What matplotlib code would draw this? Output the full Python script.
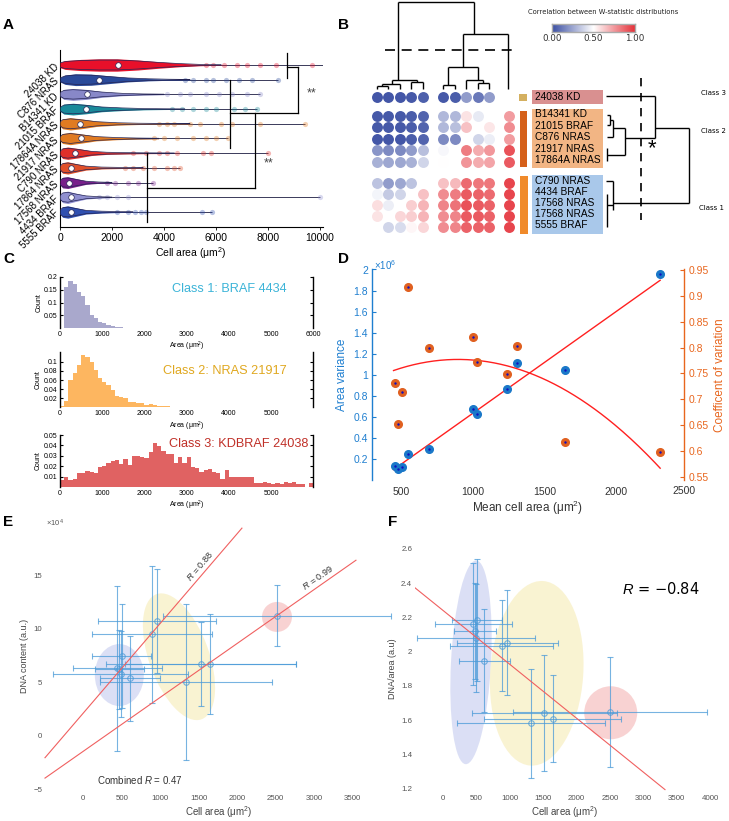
import numpy as np
import matplotlib
matplotlib.use('Agg')
import matplotlib.pyplot as plt
from matplotlib.patches import Rectangle, Ellipse
from matplotlib.colors import LinearSegmentedColormap
from matplotlib.transforms import ScaledTranslation

plt.rcParams['font.family'] = ['Liberation Sans', 'DejaVu Sans']
plt.rcParams['mathtext.fontset'] = 'custom'
plt.rcParams['mathtext.rm'] = 'Liberation Sans'
plt.rcParams['mathtext.it'] = 'Liberation Sans:italic'

nan = np.nan
# ---------------- DATA ----------------
# Panel A
A_labels = ["24038 KD", "C876 NRAS", "B14341 KD", "21015 BRAF", "17864A NRAS", "21917 NRAS",
            "C790 NRAS", "17864 NRAS", "17568 NRAS", "4434 BRAF", "5555 BRAF"]
A_colors = ['#e8102a', '#2a4a9a', '#8888c8', '#1a8a9a', '#e07b22', '#e07b22',
            '#e0302a', '#e0502a', '#78208a', '#9090d0', '#3050b0']
A_median = [2240, 1500, 1030, 1000, 770, 790, 580, 410, 360, 410, 410]
A_max = [10100, 8400, 7690, 7560, 9420, 6470, 8000, 4600, 3590, 10000, 5830]
A_prof_x = [[0, 200, 800, 1500, 2200, 3000, 3800, 4600, 5400, 6200],
            [0, 200, 600, 1200, 1800, 2600, 3400, 4200, 5000],
            [0, 150, 500, 1000, 1600, 2400, 3200, 4000],
            [0, 150, 500, 1000, 1600, 2400, 3200, 4000, 4800],
            [0, 100, 400, 800, 1400, 2200, 3000, 4000, 5000],
            [0, 100, 400, 800, 1400, 2200, 3000, 3800],
            [0, 100, 300, 700, 1200, 1800, 2600, 3400, 4400],
            [0, 100, 300, 600, 1000, 1600, 2400, 3200],
            [0, 100, 300, 600, 1000, 1500, 2000],
            [0, 100, 300, 600, 1000, 1500, 2000],
            [0, 100, 300, 600, 1000, 1600, 2200, 2800]]
A_prof_w = [[0.18, 0.3, 0.38, 0.42, 0.42, 0.34, 0.22, 0.12, 0.05, 0.02],
            [0.15, 0.32, 0.40, 0.38, 0.28, 0.15, 0.08, 0.04, 0.02],
            [0.15, 0.34, 0.40, 0.34, 0.2, 0.09, 0.04, 0.02],
            [0.15, 0.34, 0.40, 0.32, 0.18, 0.1, 0.05, 0.03, 0.02],
            [0.15, 0.34, 0.42, 0.34, 0.18, 0.09, 0.05, 0.03, 0.02],
            [0.15, 0.34, 0.42, 0.32, 0.16, 0.08, 0.04, 0.02],
            [0.15, 0.36, 0.42, 0.32, 0.16, 0.08, 0.05, 0.03, 0.02],
            [0.15, 0.36, 0.42, 0.3, 0.15, 0.07, 0.04, 0.02],
            [0.15, 0.36, 0.40, 0.28, 0.12, 0.05, 0.02],
            [0.15, 0.36, 0.42, 0.28, 0.12, 0.05, 0.02],
            [0.15, 0.36, 0.42, 0.3, 0.14, 0.07, 0.04, 0.02]]
A_outliers = [[5600, 5900, 6300, 6800, 7200, 7700, 8300, 9680],
              [4800, 5100, 5600, 5900, 6400, 6900, 7400, 8400],
              [4100, 4600, 5000, 5600, 6100, 6600, 7200, 7690],
              [4300, 4700, 5100, 5600, 6000, 6700, 7100, 7560],
              [3800, 4100, 4400, 5000, 5400, 6200, 6600, 7700, 9420],
              [3600, 4000, 4500, 5100, 5600, 6000, 6470],
              [2800, 3300, 3800, 4100, 4500, 5500, 5800, 8000],
              [2500, 2800, 3200, 3600, 4100, 4400, 4600],
              [1800, 2100, 2600, 3000, 3590],
              [1500, 1800, 2200, 2600, 10000],
              [2200, 2600, 2900, 3100, 3300, 5450, 5830]]

# Panel B
B_vals = np.array([
    [0.02, 0.02, 0.02, 0.03, 0.05, 0.03, 0.04, 0.22, 0.12, 0.22, nan],
    [0.03, 0.03, 0.03, 0.04, 0.06, 0.30, 0.30, 0.57, 0.44, nan, 0.74],
    [0.03, 0.03, 0.03, 0.04, 0.06, 0.30, 0.32, 0.65, nan, 0.56, 0.78],
    [0.02, 0.02, 0.02, 0.04, 0.06, 0.17, 0.17, nan, 0.38, 0.45, 0.74],
    [0.20, 0.17, 0.17, 0.22, 0.32, 0.48, nan, 0.82, 0.70, 0.75, 0.92],
    [0.28, 0.25, 0.25, 0.28, 0.38, 0.50, nan, 0.76, 0.70, 0.72, 0.90],
    [0.33, 0.22, 0.25, 0.33, nan, 0.65, 0.67, 0.86, 0.83, 0.83, 0.95],
    [0.47, 0.35, 0.38, nan, 0.65, 0.78, 0.82, 0.90, 0.88, 0.86, 0.95],
    [0.58, 0.45, nan, 0.62, 0.68, 0.80, 0.84, 0.92, 0.90, 0.88, 0.95],
    [0.57, nan, 0.60, 0.62, 0.68, 0.78, 0.80, 0.90, 0.90, 0.88, 0.95],
    [nan, 0.38, 0.40, 0.52, 0.60, 0.78, 0.80, 0.88, 0.88, 0.88, 0.95]])
B_class3 = ["24038 KD"]
B_class2 = ["B14341 KD", "21015 BRAF", "C876 NRAS", "21917 NRAS", "17864A NRAS"]
B_class1 = ["C790 NRAS", "4434 BRAF", "17568 NRAS", "17568 NRAS", "5555 BRAF"]
B_cbar_ticks = [0.0, 0.5, 1.0]

# Panel C (bin width 100 um^2, starting at 0)
C1_h = [0.0, 0.16, 0.185, 0.17, 0.14, 0.127, 0.09, 0.05, 0.038, 0.025, 0.019, 0.012, 0.009,
        0.006, 0.004, 0.003, 0.002, 0.0015, 0.001, 0.0005]
C2_h = [0.003, 0.015, 0.06, 0.076, 0.093, 0.115, 0.111, 0.1, 0.082, 0.064, 0.056, 0.049, 0.038,
        0.025, 0.022, 0.02, 0.013, 0.013, 0.009, 0.009, 0.005, 0.007, 0.005, 0.004, 0.003, 0.003,
        0.002, 0.002, 0.002, 0.002, 0.001, 0.001, 0.001, 0.0005, 0.0005]
C3_h = [0.0065, 0.0097, 0.007, 0.008, 0.013, 0.0136, 0.015, 0.0145, 0.0136, 0.019, 0.02, 0.023,
        0.025, 0.026, 0.022, 0.027, 0.021, 0.03, 0.03, 0.029, 0.0275, 0.034, 0.042, 0.039, 0.035,
        0.032, 0.0317, 0.0226, 0.029, 0.0226, 0.0285, 0.019, 0.0178, 0.0145, 0.016, 0.017, 0.0145,
        0.013, 0.008, 0.016, 0.0097, 0.0097, 0.0097, 0.0097, 0.0097, 0.0097, 0.004, 0.004, 0.005,
        0.004, 0.003, 0.004, 0.003, 0.005, 0.004, 0.005, 0.003, 0.0025, 0.0, 0.004]
C_binw = 100

# Panel D
D_area = [458, 481, 505, 551, 693, 1003, 1031, 1236, 1310, 1642, 2304]
D_var = [0.14, 0.11, 0.13, 0.247, 0.298, 0.674, 0.63, 0.864, 1.11, 1.047, 1.958]
D_cv = [0.732, 0.652, 0.715, 0.917, 0.799, 0.820, 0.772, 0.748, 0.803, 0.618, 0.597]

# Panel E
E_area = [499, 442, 486, 607, 888, 961, 1334, 1529, 1650, 2516, 470]
E_dna = [7.48, 6.3, 5.77, 5.36, 9.5, 10.72, 5.02, 6.7, 6.7, 11.2, 6.2]
E_xerr = [380, 574, 880, 390, 780, 765, 1120, 1240, 1110, 1480, 320]
E_yerr = [4.85, 7.7, 4.0, 4.0, 6.4, 4.85, 7.25, 3.95, 4.65, 2.85, 3.7]
E_grpA = [0, 1, 2, 3, 4, 5, 10]   # R = 0.88 fit
E_grpB = [6, 7, 8, 9]             # R = 0.99 fit

# Panel F
F_area = [510, 450, 475, 490, 615, 876, 960, 1316, 1516, 1641, 2501]
F_ratio = [2.185, 2.162, 2.122, 2.082, 1.948, 2.035, 2.052, 1.582, 1.644, 1.609, 1.648]
F_xerr = [375, 575, 318, 880, 383, 770, 760, 1105, 1087, 1025, 1455]
F_yerr = [0.355, 0.355, 0.28, 0.315, 0.30, 0.265, 0.307, 0.318, 0.338, 0.253, 0.323]

# ---------------- FIGURE ----------------
W, H = 729, 821
fig = plt.figure(figsize=(W / 100, H / 100), dpi=100)


def rect(l, t, r, b):
    return [l / W, 1 - b / H, (r - l) / W, (b - t) / H]


# ===== Panel A =====
axA = fig.add_axes(rect(60, 50, 322.6, 227))
nA = len(A_labels)
for i in range(nA):
    px = np.array(A_prof_x[i], float)
    pw = np.array(A_prof_w[i], float)
    axA.plot([0, A_max[i]], [i, i], color='#3a3a5a', lw=0.7, zorder=1, solid_capstyle='butt')
    axA.scatter(A_outliers[i], [i] * len(A_outliers[i]), s=14, color=A_colors[i], alpha=0.35,
                lw=0, zorder=2)
    axA.fill_between(px, i - pw, i + pw, color=A_colors[i], zorder=3, lw=0)
    axA.plot(np.r_[px, px[::-1]], np.r_[i - pw * 0.8, (i + pw * 0.8)[::-1]], color='#252555',
             lw=0.5, zorder=4)
    axA.plot(A_median[i], i, 'o', ms=4, mfc='white', mec='#252555', mew=0.5, zorder=5)
A_br = [[(8730, -0.82), (8730, 0.88)], [(8730, 0.14), (9150, 0.14)], [(9150, 0.14), (9150, 3.27)],
        [(9150, 3.27), (6540, 3.27)], [(6540, 1.02), (6540, 5.65)], [(7500, 3.27), (7500, 8.37)],
        [(7500, 8.37), (3350, 8.37)], [(3350, 5.99), (3350, 10.68)]]
for s in A_br:
    axA.plot([s[0][0], s[1][0]], [s[0][1], s[1][1]], color='black', lw=0.9, zorder=6)
axA.text(9690, 1.95, '**', fontsize=9, color='#444444', ha='center', va='center')
axA.text(8040, 6.7, '**', fontsize=9, color='#444444', ha='center', va='center')
axA.set_xlim(0, 10100)
axA.set_ylim(nA - 1 + 1.02, -1.02)
axA.set_yticks(range(nA))
axA.set_yticklabels(A_labels, rotation=45, ha='right', va='center', rotation_mode='anchor',
                    fontsize=7)
axA.tick_params(axis='y', length=0, pad=2)
axA.set_xticks([0, 2000, 4000, 6000, 8000, 10000])
axA.tick_params(axis='x', labelsize=7.5, length=2, width=0.6, pad=2)
for s in ['top', 'right']:
    axA.spines[s].set_visible(False)
for s in ['left', 'bottom']:
    axA.spines[s].set_linewidth(0.8)
axA.set_xlabel('Cell area (μm$^2$)', fontsize=7.5, labelpad=2)

# ===== Panel C =====
C_specs = [
    (C1_h, rect(60, 276.7, 313.3, 328.3), 0.2, [0.05, 0.1, 0.15, 0.2], ['0.05', '0.1', '0.15', '0.2'],
     list(range(0, 7000, 1000)), '#a9a8cc', 'Class 1: BRAF 4434', '#3cb4d8', (4000, 0.152), 'center'),
    (C2_h, rect(60, 352.5, 313.3, 407.5), 0.12, [0.02, 0.04, 0.06, 0.08, 0.1],
     ['0.02', '0.04', '0.06', '0.08', '0.1'], list(range(0, 6000, 1000)), '#fdb660',
     'Class 2: NRAS 21917', '#e0a820', (3900, 0.08), 'center'),
    (C3_h, rect(60, 435, 313.3, 487), 0.05, [0.01, 0.02, 0.03, 0.04, 0.05],
     ['0.01', '0.02', '0.03', '0.04', '0.05'], list(range(0, 6000, 1000)), '#e06262',
     'Class 3: KDBRAF 24038', '#c03028', (5880, 0.0415), 'right'),
]
for h, rc, ytop, yt, ytl, xt, col, title, tcol, tpos, tha in C_specs:
    ax = fig.add_axes(rc)
    edges = np.arange(len(h) + 1) * C_binw
    ax.stairs(h, edges, fill=True, color=col, lw=0)
    ax.set_xlim(0, 6000)
    ax.set_ylim(0, ytop)
    ax.set_yticks(yt)
    ax.set_yticklabels(ytl)
    ax.set_xticks(xt)
    ax.tick_params(axis='both', labelsize=5, length=2.5, width=0.8, direction='in', pad=2)
    ax.tick_params(axis='y', right=True)
    ax.tick_params(axis='x', length=0)
    ax.spines['top'].set_visible(False)
    ax.spines['bottom'].set_visible(False)
    ax.spines['left'].set_linewidth(1.0)
    ax.spines['right'].set_linewidth(1.0)
    ax.set_ylabel('Count', fontsize=5, labelpad=1)
    ax.set_xlabel('Area (μm$^2$)', fontsize=5, labelpad=1.5)
    ax.text(tpos[0], tpos[1], title, color=tcol, fontsize=9.2, ha=tha, va='center')

# ===== Panel D =====
blue = '#1f7fd0'
orng = '#e8661e'
axD = fig.add_axes(rect(372, 269.5, 684, 480.4))
axD2 = axD.twinx()
axD.plot(D_area, D_var, 'o', ms=5.5, color='#1a78c8', zorder=3)
axD.plot(D_area, D_var, '.', ms=1.5, color='#1010c0', zorder=4)
axD2.plot(D_area, D_cv, 'o', ms=5.5, color='#e06020', zorder=3)
axD2.plot(D_area, D_cv, '.', ms=1.5, color='#1010c0', zorder=4)
xf = np.linspace(min(D_area) - 10, max(D_area), 200)
p1 = np.polyfit(D_area, D_var, 1)
axD.plot(xf, np.polyval(p1, xf), color='#ff2020', lw=1.0, zorder=2)
p2 = np.polyfit(D_area, D_cv, 2)
axD2.plot(xf, np.polyval(p2, xf), color='#ff2020', lw=1.0, zorder=2)
axD.set_xlim(298, 2470)
axD.set_ylim(0, 2.0)
axD2.set_ylim(0.5428, 0.9514)
axD.set_xticks([500, 1000, 1500, 2000])
axD.set_yticks([0.2, 0.4, 0.6, 0.8, 1.0, 1.2, 1.4, 1.6, 1.8, 2.0])
axD.set_yticklabels(['0.2', '0.4', '0.6', '0.8', '1', '1.2', '1.4', '1.6', '1.8', '2'])
axD2.set_yticks([0.55, 0.6, 0.65, 0.7, 0.75, 0.8, 0.85, 0.9, 0.95])
axD2.set_yticklabels(['0.55', '0.6', '0.65', '0.7', '0.75', '0.8', '0.85', '0.9', '0.95'])
for a in (axD, axD2):
    a.spines['top'].set_visible(False)
    a.spines['bottom'].set_visible(False)
    a.patch.set_visible(False)
axD.spines['right'].set_visible(False)
axD2.spines['left'].set_visible(False)
axD.spines['left'].set_color(blue)
axD.spines['left'].set_linewidth(1.0)
axD2.spines['right'].set_color(orng)
axD2.spines['right'].set_linewidth(1.0)
axD.tick_params(axis='y', colors=blue, labelsize=7.5, direction='in', length=3, pad=3)
axD2.tick_params(axis='y', colors=orng, labelsize=7.5, direction='in', length=3, pad=3)
axD.tick_params(axis='x', labelsize=7.5, length=0, pad=5, labelcolor='#333333')
axD.set_ylabel('Area variance', color=blue, fontsize=8.5, labelpad=4)
axD2.set_ylabel('Coefficent of variation', color=orng, fontsize=8.5, labelpad=4)
axD.set_xlabel('Mean cell area (μm$^2$)', fontsize=8.5, color='#333333', labelpad=1)
axD.text(1.0, -0.025, '2500', transform=axD.transAxes, fontsize=7.5, color='#333333',
         ha='center', va='top')


def ell(ax, xc, yc, w_px, h_px, ang, color, alpha):
    tr = fig.dpi_scale_trans + ScaledTranslation(xc, yc, ax.transData)
    e = Ellipse((0, 0), w_px / 100, h_px / 100, angle=ang, transform=tr, fc=color, ec='none',
                alpha=alpha, zorder=0)
    ax.add_patch(e)


ebc = '#4a9ad8'
gray = '#555555'

# ===== Panel E =====
axE = fig.add_axes(rect(45, 520, 392, 792))
axE.set_xlim(-497.5, 4010)
axE.set_ylim(-5.26, 20.16)
axE.patch.set_visible(False)
ell(axE, 468, 5.67, 49, 62, 0, '#d3d8f3', 0.8)
ell(axE, 1243, 7.38, 133, 60, -70.2, '#f8efc4', 0.75)
ell(axE, 2516, 11.1, 30, 30, 0, '#f6c0c0', 0.7)
axE.errorbar(E_area, E_dna, xerr=E_xerr, yerr=E_yerr, fmt='o', mfc='none', mec=ebc, ecolor=ebc,
             elinewidth=0.8, capsize=2, capthick=0.8, ms=4, mew=0.8, alpha=0.75, zorder=3,
             clip_on=False)
ea = np.array(E_area, float)
ed = np.array(E_dna, float)
fa = np.polyfit(ea[E_grpA], ed[E_grpA], 1)
fb = np.polyfit(ea[E_grpB], ed[E_grpB], 1)
xa = np.array([-497.5, (19.4 - fa[1]) / fa[0]])
xb = np.array([-497.5, (16.4 - fb[1]) / fb[0]])
axE.plot(xa, np.polyval(fa, xa), color='#f06060', lw=0.8, zorder=4, clip_on=False)
axE.plot(xb, np.polyval(fb, xb), color='#f06060', lw=0.8, zorder=4, clip_on=False)


def rot_of(ax, p, x0, x1):
    d = ax.transData.transform([[x0, np.polyval(p, x0)], [x1, np.polyval(p, x1)]])
    return np.degrees(np.arctan2(d[1, 1] - d[0, 1], d[1, 0] - d[0, 0]))


axE.text(1560, np.polyval(fa, 1560) + 0.3, '$\\it{R}$ = 0.88', fontsize=6.5, color='#333333',
         rotation=rot_of(axE, fa, 0, 2000), rotation_mode='anchor', ha='center', va='bottom')
axE.text(3080, np.polyval(fb, 3080) + 0.3, '$\\it{R}$ = 0.99', fontsize=6.5, color='#333333',
         rotation=rot_of(axE, fb, 0, 3000), rotation_mode='anchor', ha='center', va='bottom')
axE.text(174, -4.14, 'Combined $\\it{R}$ = 0.47', fontsize=7, color='#333333', ha='left',
         va='center')
axE.set_xticks([0, 500, 1000, 1500, 2000, 2500, 3000, 3500])
axE.set_yticks([-5, 0, 5, 10, 15])
axE.set_yticklabels(['−5', '0', '5', '10', '15'])
axE.tick_params(length=0, labelsize=5.7, labelcolor=gray, pad=2)
for s in axE.spines.values():
    s.set_visible(False)
axE.set_xlabel('Cell area (μm$^2$)', fontsize=7, color='#444444', labelpad=2)
axE.set_ylabel('DNA content (a.u.)', fontsize=6.5, color='#444444', labelpad=3)

# ===== Panel F =====
axF = fig.add_axes(rect(415, 545, 715, 792))
axF.set_xlim(-425, 4075)
axF.set_ylim(1.182, 2.622)
axF.patch.set_visible(False)
ell(axF, 415, 1.938, 40, 204, -3, '#d3d8f3', 0.8)
ell(axF, 1401, 1.874, 93, 185, -4, '#f8efc4', 0.75)
ell(axF, 2511, 1.644, 53, 53, 0, '#f6c0c0', 0.7)
axF.errorbar(F_area, F_ratio, xerr=F_xerr, yerr=F_yerr, fmt='o', mfc='none', mec=ebc, ecolor=ebc,
             elinewidth=0.8, capsize=2, capthick=0.8, ms=4, mew=0.8, alpha=0.75, zorder=3,
             clip_on=False)
pf = np.polyfit(F_area, F_ratio, 1)
xfF = np.array([-425, 3325])
axF.plot(xfF, np.polyval(pf, xfF), color='#f06060', lw=0.8, zorder=4)
axF.text(0.82, 0.82, '$\\it{R}$ = −0.84', transform=axF.transAxes, fontsize=10.5,
         family='DejaVu Sans', ha='center', va='center', color='black')
axF.set_xticks([0, 500, 1000, 1500, 2000, 2500, 3000, 3500, 4000])
axF.set_yticks([1.2, 1.4, 1.6, 1.8, 2.0, 2.2, 2.4, 2.6])
axF.set_yticklabels(['1.2', '1.4', '1.6', '1.8', '2', '2.2', '2.4', '2.6'])
axF.tick_params(length=0, labelsize=5.7, labelcolor=gray, pad=2)
for s in axF.spines.values():
    s.set_visible(False)
axF.set_xlabel('Cell area (μm$^2$)', fontsize=7, color='#444444', labelpad=2)
axF.set_ylabel('DNA/area (a.u)', fontsize=6.5, color='#444444', labelpad=3)

# ===== Overlay (panel B + letters) =====
axO = fig.add_axes([0, 0, 1, 1])
axO.set_xlim(0, W)
axO.set_ylim(H, 0)
axO.axis('off')

cmap = LinearSegmentedColormap.from_list('bwr2', ['#3b4fa3', '#ffffff', '#e5323a'])
col_x = [376.7, 388.2, 399.7, 411.2, 422.7, 443.3, 454.8, 466.3, 477.8, 489.3, 509.0]
row_y = [97, 116, 127.5, 139, 150.5, 162, 183.5, 194.5, 205.5, 216.5, 227.5]
for r in range(B_vals.shape[0]):
    for c in range(B_vals.shape[1]):
        v = B_vals[r, c]
        if np.isnan(v):
            continue
        axO.scatter([col_x[c]], [row_y[r]], s=62, color=cmap(v), lw=0, zorder=3)

dk = dict(color='black', lw=1.0, solid_capstyle='butt', zorder=4)
top_segs = [[(398, 1.7), (474, 1.7)], [(398, 1.7), (398, 80)], [(474, 1.7), (474, 34)],
            [(463, 34), (508, 34)], [(508, 34), (508, 89)], [(463, 34), (463, 67)],
            [(448.5, 67), (478, 67)], [(448.5, 67), (448.5, 85)], [(443.3, 85), (454.8, 85)],
            [(443.3, 85), (443.3, 89)], [(454.8, 85), (454.8, 89)], [(478, 67), (478, 80)],
            [(466.3, 80), (483.5, 80)], [(466.3, 80), (466.3, 89)], [(483.5, 80), (483.5, 83)],
            [(477.8, 83), (489.3, 83)], [(477.8, 83), (477.8, 89)], [(489.3, 83), (489.3, 89)],
            [(392, 80), (417, 80)], [(392, 80), (392, 84)], [(382.5, 84), (399.7, 84)],
            [(382.5, 84), (382.5, 86)], [(376.7, 86), (388.2, 86)], [(376.7, 86), (376.7, 89)],
            [(388.2, 86), (388.2, 89)], [(399.7, 84), (399.7, 89)], [(417, 80), (417, 82)],
            [(411.2, 82), (422.7, 82)], [(411.2, 82), (411.2, 89)], [(422.7, 82), (422.7, 89)]]
right_segs = [[(606, 96), (655, 96)], [(655, 96), (655, 138)], [(625, 138), (655, 138)],
              [(655, 128), (689, 128)], [(689, 128), (689, 203.5)], [(613, 203), (689, 203)],
              [(607, 115), (610, 115)], [(607, 125), (610, 125)], [(610, 115), (610, 125)],
              [(610, 120), (613, 120)], [(613, 120), (613, 137)], [(607, 137), (613, 137)],
              [(613, 128), (625, 128)], [(625, 128), (625, 155)], [(607, 148), (607, 161)],
              [(607, 155), (625, 155)],
              [(606, 181), (613, 181)], [(613, 181), (613, 210)], [(607, 194), (607, 227)],
              [(607, 205), (613, 205)]]
for s in top_segs + right_segs:
    axO.plot([s[0][0], s[1][0]], [s[0][1], s[1][1]], **dk)
axO.plot([385, 518], [50, 50], color='black', lw=1.2, dashes=(6, 4), zorder=4)
axO.plot([641, 641], [78, 220], color='black', lw=1.2, dashes=(5, 4), zorder=4)
axO.text(652, 149, '*', fontsize=16, ha='center', va='center')

# class bars and boxes
axO.add_patch(Rectangle((519.5, 94), 7.5, 7.5, color='#d4b060', lw=0))
axO.add_patch(Rectangle((520, 110.7), 7.5, 56.5, color='#d5601a', lw=0))
axO.add_patch(Rectangle((520, 176), 8.5, 58, color='#f08a2a', lw=0))
axO.add_patch(Rectangle((532, 90), 71, 14, color='#d99090', lw=0))
axO.add_patch(Rectangle((532, 109), 71, 58.7, color='#f2b584', lw=0))
axO.add_patch(Rectangle((532, 175), 71, 59, color='#a9c8ea', lw=0))
axO.text(535, 97.5, B_class3[0], fontsize=7.3, va='center', ha='left')
for k, t in enumerate(B_class2):
    axO.text(535, row_y[1 + k] - 1.8, t, fontsize=7.3, va='center', ha='left')
for k, t in enumerate(B_class1):
    axO.text(535, row_y[6 + k] - 2.5, t, fontsize=7.3, va='center', ha='left')
axO.text(726, 93, 'Class 3', fontsize=5, family='DejaVu Sans', va='center', ha='right')
axO.text(726, 131, 'Class 2', fontsize=5, family='DejaVu Sans', va='center', ha='right')
axO.text(724, 208, 'Class 1', fontsize=5, family='DejaVu Sans', va='center', ha='right')
axO.text(603, 12.5, 'Correlation between W-statistic distributions', fontsize=4.9,
         family='DejaVu Sans', ha='center', va='center', color='#222222')

# colorbar
axC = fig.add_axes(rect(552, 24, 635, 32))
axC.imshow(np.linspace(0, 1, 256)[None, :], cmap=cmap, aspect='auto', extent=[0, 1, 0, 1])
axC.set_yticks([])
axC.set_xticks(B_cbar_ticks)
axC.set_xticklabels(['0.00', '0.50', '1.00'], family='DejaVu Sans')
axC.tick_params(axis='x', length=0, labelsize=6.3, pad=1.5, labelcolor='#333333')
for s in axC.spines.values():
    s.set_color('#aaaaaa')
    s.set_linewidth(1.0)

# panel letters
for L, x, y in [('A', 3, 25), ('B', 338, 25), ('C', 3, 259), ('D', 338, 259), ('E', 3, 522),
                ('F', 388, 522)]:
    axO.text(x, y, L, fontsize=11, fontweight='bold', ha='left', va='center')

axO.text(46, 523, '$\\times10^4$', fontsize=5.5, color=gray, ha='left', va='center')
axO.text(374, 265, '$\\times10^6$', fontsize=7, color=blue, ha='left', va='center')

fig.savefig('out.png', dpi=100)
